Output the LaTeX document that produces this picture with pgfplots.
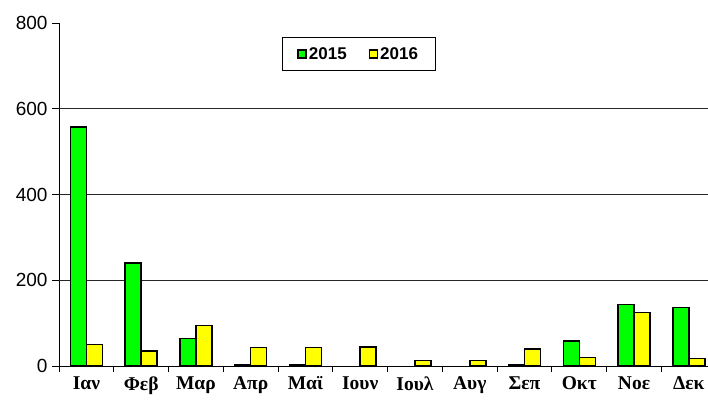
\documentclass[border=0pt]{standalone}
\usepackage{pgfplots}
\pgfplotsset{compat=1.18}
\usepackage{fontspec}
\setmainfont{Liberation Serif}
\setsansfont{Liberation Sans}
\definecolor{gr}{RGB}{0,255,0}
\definecolor{ye}{RGB}{255,255,0}
\begin{document}
\begin{tikzpicture}
\begin{axis}[name=ax, scale only axis, width=649pt, height=343pt,
 xmin=-0.5, xmax=11.35, ymin=0, ymax=800,
 axis x line*=bottom, axis y line*=left,
 axis line style={black, line width=0.9pt},
 ybar=0pt, bar width=16pt,
 xtick={0,...,11},
 xticklabels={Ιαν,Φεβ,Μαρ,Απρ,Μαϊ,Ιουν,Ιουλ,Αυγ,Σεπ,Οκτ,Νοε,Δεκ},
 minor xtick={-0.5,0.5,...,11.5},
 major x tick style={draw=none},
 minor x tick style={black, line width=0.9pt},
 tick align=outside,
 major tick length=7pt, minor tick length=6pt,
 ytick={0,200,...,800},
 y tick style={black, line width=0.9pt},
 extra y ticks={200,400,600}, extra y tick labels={},
 extra y tick style={grid=major, major tick length=0pt},
 major grid style={black!85, line width=0.9pt},
 /pgf/number format/assume math mode=true,
 yticklabel style={font=\sffamily\fontsize{19}{19}\selectfont, xshift=-1pt},
 xticklabel style={font=\bfseries\fontsize{19.5}{19.5}\selectfont},
 legend style={at={(0.3436,0.9592)}, anchor=north west, draw=black, line width=0.8pt,
   font=\sffamily\bfseries\fontsize{17}{17}\selectfont,
   /tikz/every even column/.append style={column sep=20pt},
   inner xsep=15pt, inner ysep=8pt},
 legend columns=2,
 legend image code/.code={\draw[#1,line width=1.5pt] (0pt,-4pt) rectangle (8pt,4pt);},
]
\addplot[fill=gr, draw=black, line width=1.5pt] coordinates {
 (0,558) (1,240) (2,64) (3,3) (4,3) (8,3) (9,58) (10,143) (11,137)};
\addplot[fill=ye, draw=black, line width=1.5pt] coordinates {
 (0,50) (1,35) (2,95) (3,43) (4,43) (5,44) (6,13) (7,13) (8,40) (9,20) (10,125) (11,17)};
\legend{2015,2016}
\end{axis}
\pgfresetboundingbox
\path ([xshift=-59pt,yshift=-35pt]ax.south west) rectangle ([yshift=23pt]ax.north east);
\end{tikzpicture}
\end{document}
